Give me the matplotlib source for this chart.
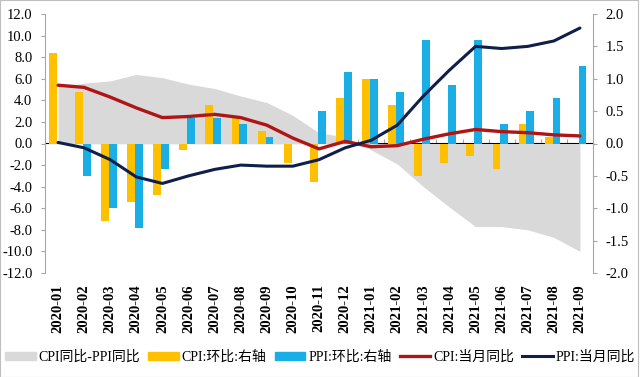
import matplotlib
matplotlib.use("Agg")
import matplotlib.pyplot as plt
import matplotlib.patches as mpatches
import matplotlib.lines as mlines
import numpy as np

months = ["2020-01", "2020-02", "2020-03", "2020-04", "2020-05", "2020-06", "2020-07",
          "2020-08", "2020-09", "2020-10", "2020-11", "2020-12", "2021-01", "2021-02",
          "2021-03", "2021-04", "2021-05", "2021-06", "2021-07", "2021-08", "2021-09"]
cpi_ppi_gap = [5.3, 5.6, 5.8, 6.4, 6.1, 5.5, 5.1, 4.4, 3.8, 2.6, 1.0, 0.6, -0.6, -1.9,
               -4.0, -5.9, -7.7, -7.7, -8.0, -8.7, -10.0]
cpi_mom = [1.4, 0.8, -1.2, -0.9, -0.8, -0.1, 0.6, 0.4, 0.2, -0.3, -0.6, 0.7, 1.0, 0.6,
           -0.5, -0.3, -0.2, -0.4, 0.3, 0.1, 0.0]
ppi_mom = [0.0, -0.5, -1.0, -1.3, -0.4, 0.4, 0.4, 0.3, 0.1, 0.0, 0.5, 1.1, 1.0, 0.8,
           1.6, 0.9, 1.6, 0.3, 0.5, 0.7, 1.2]
cpi_yoy = [5.4, 5.2, 4.3, 3.3, 2.4, 2.5, 2.7, 2.4, 1.7, 0.5, -0.5, 0.2, -0.3, -0.2,
           0.4, 0.9, 1.3, 1.1, 1.0, 0.8, 0.7]
ppi_yoy = [0.1, -0.4, -1.5, -3.1, -3.7, -3.0, -2.4, -2.0, -2.1, -2.1, -1.5, -0.4, 0.3,
           1.7, 4.4, 6.8, 9.0, 8.8, 9.0, 9.5, 10.7]
left_ticks = [12, 10, 8, 6, 4, 2, 0, -2, -4, -6, -8, -10, -12]
right_ticks = [2.0, 1.5, 1.0, 0.5, 0.0, -0.5, -1.0, -1.5, -2.0]

FAM = ["Liberation Serif", "Noto Sans CJK SC"]
plt.rcParams["font.family"] = FAM

C_GRAY = "#D9D9D9"
C_ORANGE = "#FFC000"
C_BLUE = "#19AEE6"
C_RED = "#B01515"
C_NAVY = "#0F1E4A"
C_AXIS = "#A6A6A6"

fig = plt.figure(figsize=(6.4, 3.77), dpi=100)
x = np.arange(len(months))

# area axis (left scale)
ax = fig.add_axes([45 / 640, 1 - 273 / 377, (593 - 45) / 640, (273 - 14) / 377])
ax.fill_between(x, 0, cpi_ppi_gap, color=C_GRAY, lw=0, zorder=1)
ax.set_xlim(-0.5, len(months) - 0.5)
ax.set_ylim(-12, 12)
ax.set_yticks(left_ticks)
ax.set_yticklabels([f"{v:.1f}" for v in left_ticks], fontsize=10.5)
ax.tick_params(axis="y", direction="out", length=3, color=C_AXIS, pad=6)
ax.set_xticks(x)
ax.set_xticklabels(months, rotation=90, fontsize=10.5, fontweight="bold")
ax.tick_params(axis="x", length=0, pad=8)
for s in ["top", "right", "bottom"]:
    ax.spines[s].set_visible(False)
ax.spines["left"].set_color(C_AXIS)

# category axis line at zero
sec = ax.secondary_xaxis(0.5)
sec.set_xticks(np.arange(len(months) + 1) - 0.5)
sec.set_xticklabels([])
sec.tick_params(axis="x", direction="out", length=3, color=C_AXIS)
sec.spines["bottom"].set_color(C_AXIS)
sec.spines["bottom"].set_linewidth(0.8)

# bars axis (right scale)
axb = ax.twinx()
w = 0.3
axb.bar(x - 0.2, cpi_mom, width=w, color=C_ORANGE, zorder=2)
axb.bar(x + 0.1, ppi_mom, width=w, color=C_BLUE, zorder=2)
axb.set_ylim(-2, 2)
axb.set_yticks(right_ticks)
axb.set_yticklabels([f"{v:.1f}" for v in right_ticks], fontsize=10.5)
axb.tick_params(axis="y", direction="out", length=3, color=C_AXIS, pad=6)
for s in ["top", "left", "bottom"]:
    axb.spines[s].set_visible(False)
axb.spines["right"].set_color(C_AXIS)

# lines axis (left scale)
axl = ax.twinx()
axl.set_ylim(-12, 12)
axl.plot(x, cpi_yoy, color=C_RED, lw=2.4, solid_joinstyle="round", solid_capstyle="round")
axl.plot(x, ppi_yoy, color=C_NAVY, lw=2.2, solid_joinstyle="round", solid_capstyle="round")
axl.set_yticks([])
for s in axl.spines.values():
    s.set_visible(False)

handles = [
    mpatches.Patch(color=C_GRAY, label="CPI同比-PPI同比"),
    mpatches.Patch(color=C_ORANGE, label="CPI:环比:右轴"),
    mpatches.Patch(color=C_BLUE, label="PPI:环比:右轴"),
    mlines.Line2D([], [], color=C_RED, lw=2.4, label="CPI:当月同比"),
    mlines.Line2D([], [], color=C_NAVY, lw=2.2, label="PPI:当月同比"),
]
fig.legend(handles=handles, loc="center", bbox_to_anchor=(0.5, 1 - 357 / 377), ncol=5,
           frameon=False, fontsize=10, handlelength=2.2, handleheight=0.5,
           handletextpad=0.2, columnspacing=0.6, borderaxespad=0)

fig.patches.append(mpatches.Rectangle((0, 0), 0.997, 1.0, transform=fig.transFigure,
                                      fill=False, edgecolor="#BFBFBF", lw=0.8))

fig.savefig("out.png", dpi=100)
